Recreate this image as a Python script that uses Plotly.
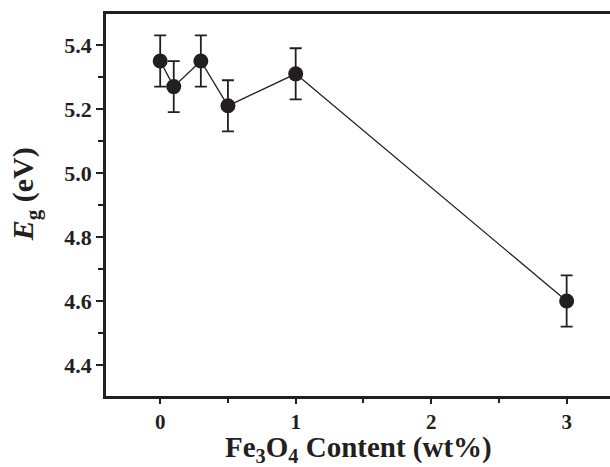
import plotly.graph_objects as go

content = [0, 0.1, 0.3, 0.5, 1, 3]
eg = [5.35, 5.27, 5.35, 5.21, 5.31, 4.60]
err = [0.08, 0.08, 0.08, 0.08, 0.08, 0.08]
x_ticks = [0, 1, 2, 3]
y_ticks = [4.4, 4.6, 4.8, 5.0, 5.2, 5.4]
x_title = "<b>Fe<sub>3</sub>O<sub>4</sub> Content (wt%)</b>"
y_title = "<b>&nbsp;&nbsp;&nbsp;<i>E</i><sub>g</sub> (eV)</b>"

dark = "#231f20"
font = "Liberation Serif, Times New Roman, Times, serif"

fig = go.Figure()
fig.add_trace(go.Scatter(
    x=content, y=eg, mode="lines+markers",
    line=dict(color=dark, width=1.3),
    marker=dict(color=dark, size=15),
    error_y=dict(type="data", array=err, visible=True, color=dark, thickness=1.8, width=6),
    showlegend=False,
))

fig.update_layout(
    width=610, height=467,
    margin=dict(l=106, r=0, t=14, b=71),
    paper_bgcolor="white", plot_bgcolor="white",
    font=dict(family=font, color=dark),
)
fig.add_annotation(
    text=x_title, xref="paper", yref="paper", x=0.5, y=-73 / 382,
    xanchor="center", yanchor="bottom", showarrow=False,
    font=dict(family=font, size=29, weight="bold", color=dark),
)
fig.update_xaxes(
    range=[-0.4, 3.32], tickvals=x_ticks, ticktext=[f"<b>{v}</b>" for v in x_ticks],
    showgrid=False, zeroline=False,
    showline=True, linecolor=dark, linewidth=2.5, mirror=True,
    ticks="outside", ticklen=5, tickwidth=2, tickcolor=dark,
    minor=dict(tickvals=[-0.5, 0.5, 1.5, 2.5], ticks="outside", ticklen=4, tickwidth=1.5, tickcolor=dark),
    tickfont=dict(family=font, size=21, weight="bold"),
)
fig.update_yaxes(
    range=[4.303, 5.497], tickvals=y_ticks, ticktext=[f"<b>{v:.1f}</b>" for v in y_ticks],
    showgrid=False, zeroline=False,
    showline=True, linecolor=dark, linewidth=2.5,
    ticks="outside", ticklen=7, tickwidth=2, tickcolor=dark,
    minor=dict(tickvals=[4.5, 4.7, 4.9, 5.1, 5.3], ticks="outside", ticklen=5, tickwidth=1.5, tickcolor=dark),
    tickfont=dict(family=font, size=22, weight="bold"),
    title=dict(text=y_title, font=dict(family=font, size=30, weight="bold"), standoff=22),
)

fig.write_html("out.html", config={"displayModeBar": False},
               post_script="document.body.style.margin='0';document.body.style.overflow='hidden';")
